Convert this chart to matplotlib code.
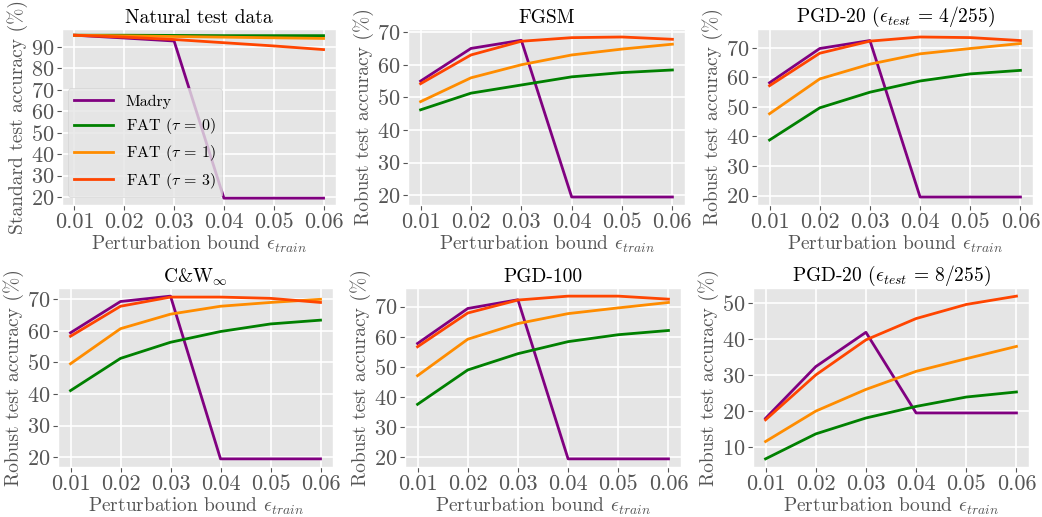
import matplotlib
matplotlib.use("Agg")
import matplotlib.pyplot as plt
from matplotlib.ticker import MultipleLocator

plt.style.use("ggplot")
plt.rcParams["font.family"] = "serif"
plt.rcParams["font.serif"] = ["cmr10", "DejaVu Serif"]
plt.rcParams["mathtext.fontset"] = "cm"
plt.rcParams["axes.unicode_minus"] = False
plt.rcParams["axes.formatter.use_mathtext"] = True

# ── data ──────────────────────────────────────────────────────────────────────
eps_train = [0.01, 0.02, 0.03, 0.04, 0.05, 0.06]
series_names = ["Madry", r"FAT ($\tau\,=\,0$)", r"FAT ($\tau\,=\,1$)", r"FAT ($\tau\,=\,3$)"]
series_colors = ["purple", "green", "darkorange", "orangered"]

natural_madry = [95.5, 94.2, 92.8, 19.5, 19.5, 19.5]
natural_fat0 = [95.5, 95.5, 95.4, 95.3, 95.3, 95.3]
natural_fat1 = [95.5, 95.2, 94.9, 94.6, 94.3, 94.0]
natural_fat3 = [95.5, 94.6, 93.5, 92.0, 90.5, 88.8]

fgsm_madry = [55.0, 65.0, 67.5, 19.5, 19.5, 19.5]
fgsm_fat0 = [46.2, 51.3, 53.8, 56.3, 57.6, 58.4]
fgsm_fat1 = [48.7, 56.0, 60.0, 63.0, 64.8, 66.3]
fgsm_fat3 = [54.2, 63.0, 67.2, 68.3, 68.5, 67.8]

pgd20_4_madry = [58.2, 69.8, 72.5, 19.5, 19.5, 19.5]
pgd20_4_fat0 = [38.8, 49.7, 55.0, 58.8, 61.2, 62.4]
pgd20_4_fat1 = [47.7, 59.5, 64.5, 68.0, 69.8, 71.5]
pgd20_4_fat3 = [57.2, 68.2, 72.3, 73.7, 73.5, 72.5]

cw_madry = [59.4, 69.3, 71.0, 19.5, 19.5, 19.5]
cw_fat0 = [41.1, 51.3, 56.4, 59.8, 62.2, 63.4]
cw_fat1 = [49.6, 60.7, 65.3, 67.8, 69.0, 70.0]
cw_fat3 = [58.3, 67.8, 70.7, 70.7, 70.3, 69.0]

pgd100_madry = [57.8, 69.4, 72.3, 19.5, 19.5, 19.5]
pgd100_fat0 = [37.6, 49.0, 54.4, 58.4, 60.7, 62.1]
pgd100_fat1 = [47.1, 59.2, 64.4, 67.7, 69.6, 71.4]
pgd100_fat3 = [56.7, 67.9, 72.2, 73.5, 73.5, 72.5]

pgd20_8_madry = [18.0, 32.3, 41.8, 19.5, 19.5, 19.5]
pgd20_8_fat0 = [6.8, 13.7, 18.1, 21.3, 23.9, 25.3]
pgd20_8_fat1 = [11.6, 20.0, 26.0, 31.0, 34.5, 37.9]
pgd20_8_fat3 = [17.6, 30.0, 39.7, 45.6, 49.5, 51.8]

panels = [
    ("Natural test data", "Standard test accuracy (%)",
     [natural_madry, natural_fat0, natural_fat1, natural_fat3]),
    ("FGSM", "Robust test accuracy (%)",
     [fgsm_madry, fgsm_fat0, fgsm_fat1, fgsm_fat3]),
    (r"PGD-20 ($\epsilon_{test}\,=\,4/255$)", "Robust test accuracy (%)",
     [pgd20_4_madry, pgd20_4_fat0, pgd20_4_fat1, pgd20_4_fat3]),
    (r"C&W$_\infty$", "Robust test accuracy (%)",
     [cw_madry, cw_fat0, cw_fat1, cw_fat3]),
    ("PGD-100", "Robust test accuracy (%)",
     [pgd100_madry, pgd100_fat0, pgd100_fat1, pgd100_fat3]),
    (r"PGD-20 ($\epsilon_{test}\,=\,8/255$)", "Robust test accuracy (%)",
     [pgd20_8_madry, pgd20_8_fat0, pgd20_8_fat1, pgd20_8_fat3]),
]

# axes boxes in pixels: left, top, right, bottom
W, H = 1042, 517
boxes = [
    (62, 29, 336, 205), (408, 29, 685, 205), (757, 29, 1033, 205),
    (58, 288, 333, 467), (405, 288, 681, 467), (753, 288, 1029, 467),
]

fig = plt.figure(figsize=(W / 100, H / 100), dpi=100)

for i, ((title, ylabel, ys), (l, t, r, b)) in enumerate(zip(panels, boxes)):
    ax = fig.add_axes([l / W, 1 - b / H, (r - l) / W, (b - t) / H])
    for y, name, c in zip(ys, series_names, series_colors):
        ax.plot(eps_train, y, color=c, lw=2, label=name)
    ax.set_title(title, fontsize=14, color="black", pad=4)
    ax.set_ylabel(ylabel, fontsize=14, color="#555555", labelpad=2)
    ax.set_xlabel(r"Perturbation bound $\epsilon_{train}$", fontsize=14,
                  color="#555555", labelpad=1)
    ax.set_xticks(eps_train)
    ax.set_xticklabels([f"{v:.2f}" for v in eps_train])
    ax.yaxis.set_major_locator(MultipleLocator(10))
    ax.tick_params(labelsize=16, colors="#555555", pad=2)
    ax.grid(color="white", lw=1.2)
    if i == 0:
        ax.set_ylim(16.3, 98.4)
        ax.legend(loc="lower left", bbox_to_anchor=(6 / 274, 8 / 176),
                  borderaxespad=0, fontsize=11.5, frameon=True,
                  facecolor="#E5E5E5", edgecolor="#D0D0D0", framealpha=0.8,
                  handlelength=2.4, borderpad=0.4, labelspacing=0.45)

fig.savefig("out.png", dpi=100)
